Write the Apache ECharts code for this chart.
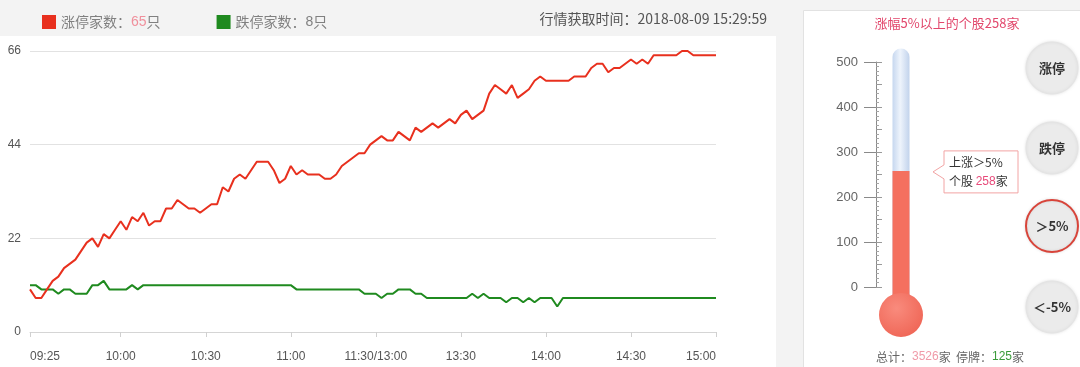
<!DOCTYPE html>
<html><head><meta charset="utf-8">
<script src="https://cdn.jsdelivr.net/npm/echarts@6/dist/echarts.min.js"></script>
<style>html,body{margin:0;padding:0;background:#f3f3f3;}#c{width:1080px;height:367px;}</style>
</head><body><div id="c"></div>
<script>
// ---------- data ----------
const tickTimes = ['09:25','10:00','10:30','11:00','11:30','13:30','14:00','14:30','15:00'];
const tickLabelMap = { '11:30': '11:30/13:00' };
const yTicks = [0, 22, 44, 66];
const limitUp = [
  10, 8, 8, 10, 12, 13, 15, 16, 17, 19,
  21, 22, 20, 23, 22, 24, 26, 24, 27, 26,
  28, 25, 26, 26, 29, 29, 31, 30, 29, 29,
  28, 29, 30, 30, 34, 33, 36, 37, 36, 38,
  40, 40, 40, 38, 35, 36, 39, 37, 38, 37,
  37, 37, 36, 36, 37, 39, 40, 41, 42, 42,
  44, 45, 46, 45, 45, 47, 46, 45, 48, 47,
  48, 49, 48, 49, 50, 49, 51, 52, 50, 51,
  52, 56, 58, 57, 56, 58, 55, 56, 57, 59,
  60, 59, 59, 59, 59, 59, 60, 60, 60, 62,
  63, 63, 61, 62, 62, 63, 64, 63, 64, 63,
  65, 65, 65, 65, 65, 66, 66, 65, 65, 65,
  65, 65
];
const limitDown = [
  11, 11, 10, 10, 10, 9, 10, 10, 9, 9,
  9, 11, 11, 12, 10, 10, 10, 10, 11, 10,
  11, 11, 11, 11, 11, 11, 11, 11, 11, 11,
  11, 11, 11, 11, 11, 11, 11, 11, 11, 11,
  11, 11, 11, 11, 11, 11, 11, 10, 10, 10,
  10, 10, 10, 10, 10, 10, 10, 10, 10, 9,
  9, 9, 8, 9, 9, 10, 10, 10, 9, 9,
  8, 8, 8, 8, 8, 8, 8, 8, 9, 8,
  9, 8, 8, 8, 7, 8, 8, 7, 8, 7,
  8, 8, 8, 6, 8, 8, 8, 8, 8, 8,
  8, 8, 8, 8, 8, 8, 8, 8, 8, 8,
  8, 8, 8, 8, 8, 8, 8, 8, 8, 8,
  8, 8
];
const limitUpCount = 65;
const limitDownCount = 8;
const updateTime = '2018-08-09 15:29:59';
const thermoTicks = [0, 100, 200, 300, 400, 500];
const above5Count = 258;
const totalCount = 3526;
const suspendedCount = 125;
const buttonLabels = ['涨停', '跌停', '＞5%', '＜-5%'];

// category times: 09:25, then every 2 minutes of the trading session
function buildTimes() {
  const t = ['09:25'];
  const fmt = m => String(Math.floor(m / 60)).padStart(2, '0') + ':' + String(m % 60).padStart(2, '0');
  for (let m = 9 * 60 + 30; m <= 11 * 60 + 30; m += 2) t.push(fmt(m));
  for (let m = 13 * 60 + 2; m <= 15 * 60; m += 2) t.push(fmt(m));
  return t;
}
const times = buildTimes();

// ---------- chart ----------
const CJK = '"Noto Sans CJK SC", "Liberation Sans", sans-serif';
const NUM = '"Liberation Sans", Arial, sans-serif';
const RED = '#e8301e', GREEN = '#1f8a1f', FILL = '#f4705f';
const TUBE_TOP = 530, BULB_CENTER = -62;

const chart = echarts.init(document.getElementById('c'), null, { renderer: 'canvas' });
const showTick = (i, v) => tickTimes.includes(v);

chart.setOption({
  animation: false,
  backgroundColor: '#f3f3f3',
  legend: {
    left: 37, top: 10, itemWidth: 14, itemHeight: 14, itemGap: 56, icon: 'rect',
    data: ['涨停家数', '跌停家数'],
    formatter: n => n === '涨停家数' ? '涨停家数：{u|' + limitUpCount + '}只' : '跌停家数：{d|' + limitDownCount + '}只',
    textStyle: { color: '#808080', fontSize: 14, fontFamily: CJK,
      rich: { u: { color: '#f0909c', fontSize: 14, fontFamily: NUM }, d: { color: '#808080', fontSize: 14, fontFamily: NUM } } },
    selectedMode: false
  },
  grid: [
    { left: 30, top: 51, width: 686, height: 281 },
    { left: 876, top: 62, width: 50, height: 225 }
  ],
  xAxis: [
    { type: 'category', gridIndex: 0, data: times, boundaryGap: false,
      axisLine: { lineStyle: { color: '#d5d5d5' } },
      axisTick: { show: true, interval: showTick, length: 5, lineStyle: { color: '#d0d0d0' } },
      axisLabel: { interval: showTick, formatter: v => tickLabelMap[v] || v, color: '#555', fontSize: 12,
        fontFamily: NUM, margin: 19, alignMinLabel: 'left', alignMaxLabel: 'right' },
      splitLine: { show: false } },
    { type: 'value', gridIndex: 1, min: 0, max: 1, show: false }
  ],
  yAxis: [
    { type: 'value', gridIndex: 0, min: yTicks[0], max: yTicks[yTicks.length - 1], interval: yTicks[1] - yTicks[0],
      axisLine: { show: false }, axisTick: { show: false },
      axisLabel: { color: '#555', fontSize: 12, fontFamily: NUM, margin: 9 },
      splitLine: { lineStyle: { color: '#e2e2e2' } } },
    { type: 'value', gridIndex: 1, position: 'left', offset: 0, min: thermoTicks[0], max: thermoTicks[thermoTicks.length - 1],
      interval: thermoTicks[1] - thermoTicks[0],
      axisLine: { show: true, lineStyle: { color: '#8a8a8a' } },
      axisTick: { show: true, length: 12, lineStyle: { color: '#8a8a8a' } },
      axisLabel: { color: '#666', fontSize: 13, fontFamily: NUM, margin: 18 },
      splitLine: { show: false } },
    { type: 'value', gridIndex: 1, position: 'left', offset: 0, min: 0, max: 500, interval: 50,
      axisLine: { show: false },
      axisTick: { show: true, inside: true, length: 6, lineStyle: { color: '#9a9a9a' } },
      minorTick: { show: true, splitNumber: 5, length: 3, lineStyle: { color: '#a5a5a5' } },
      axisLabel: { show: false }, splitLine: { show: false } }
  ],
  series: [
    { name: '涨停家数', type: 'line', xAxisIndex: 0, yAxisIndex: 0, data: limitUp, showSymbol: false, symbol: 'none',
      color: RED, lineStyle: { color: RED, width: 2 }, z: 3 },
    { name: '跌停家数', type: 'line', xAxisIndex: 0, yAxisIndex: 0, data: limitDown, showSymbol: false, symbol: 'none',
      color: GREEN, lineStyle: { color: GREEN, width: 2 }, z: 2 },
    { name: 'thermo', type: 'custom', xAxisIndex: 1, yAxisIndex: 1, data: [[0.5, above5Count]], clip: false, silent: true,
      renderItem: (params, api) => {
        const cx = api.coord([api.value(0), 0])[0];
        const yTop = api.coord([0, TUBE_TOP])[1];
        const yVal = api.coord([0, api.value(1)])[1];
        const yBulb = api.coord([0, BULB_CENTER])[1];
        const w = 17;
        return { type: 'group', children: [
          { type: 'rect', shape: { x: cx - w / 2, y: yTop, width: w, height: yBulb - yTop, r: [w / 2, w / 2, 0, 0] },
            style: { fill: new echarts.graphic.LinearGradient(0, 0, 1, 0, [
              { offset: 0, color: '#c6d7ef' }, { offset: 0.45, color: '#eef4fc' }, { offset: 1, color: '#c2d3ec' }]) } },
          { type: 'rect', shape: { x: cx - w / 2, y: yVal, width: w, height: yBulb - yVal },
            style: { fill: FILL } },
          { type: 'circle', shape: { cx: cx, cy: yBulb, r: 22 },
            style: { fill: new echarts.graphic.RadialGradient(0.4, 0.35, 0.8, [
              { offset: 0, color: '#f98b7d' }, { offset: 1, color: '#ee6151' }]) } }
        ] };
      } }
  ]
});

// decorations (panels, texts, buttons, callout)
const p = chart.convertToPixel({ xAxisIndex: 1, yAxisIndex: 1 }, [0.5, above5Count]);
const bx = p[0] + 43, by = p[1] - 20, bw = 74, bh = 42, tipX = p[0] + 32, tipY = p[1] + 1;
const btnY = [68, 148, 226, 307];
const graphics = [
  { type: 'rect', z: -10, shape: { x: 0, y: 36, width: 776, height: 331 }, style: { fill: '#ffffff' } },
  { type: 'rect', z: -10, shape: { x: 803.5, y: 10.5, width: 280, height: 360 }, style: { fill: '#ffffff', stroke: '#e2e2e2', lineWidth: 1 } },
  { type: 'text', z: 10, x: 767, y: 19, style: { text: '行情获取时间：' + updateTime, fill: '#555', font: '14px ' + CJK, align: 'right', verticalAlign: 'middle' } },
  { type: 'text', z: 10, x: 947, y: 23, style: { text: '涨幅5%以上的个股' + above5Count + '家', fill: '#e2476c', font: '13px ' + CJK, align: 'center', verticalAlign: 'middle' } },
  { type: 'text', z: 10, x: 950, y: 357, style: {
      text: '总计：{a|' + totalCount + '}家  停牌：{b|' + suspendedCount + '}家', fill: '#666', font: '12px ' + CJK,
      align: 'center', verticalAlign: 'middle',
      rich: { a: { fill: '#f09aa8', font: '12px ' + NUM }, b: { fill: '#3a9a3a', font: '12px ' + NUM } } } },
  { type: 'polygon', z: 10, shape: { points: [[tipX, tipY], [bx, tipY - 7], [bx, by], [bx + bw, by], [bx + bw, by + bh], [bx, by + bh], [bx, tipY + 7]] },
    style: { fill: '#fff', stroke: '#f2a4a4', lineWidth: 1 } },
  { type: 'text', z: 11, x: bx + 5, y: by + 12, style: { text: '上涨＞5%', fill: '#333', font: '12px ' + CJK, verticalAlign: 'middle' } },
  { type: 'text', z: 11, x: bx + 5, y: by + 31, style: { text: '个股 {v|' + above5Count + '}家', fill: '#333', font: '12px ' + CJK, verticalAlign: 'middle',
      rich: { v: { fill: '#e84a7a', font: '12px ' + NUM } } } }
];
buttonLabels.forEach((lab, i) => {
  graphics.push({ type: 'circle', z: 10, shape: { cx: 1052, cy: btnY[i], r: 26 },
    style: { fill: '#ebebeb', stroke: i === 2 ? '#d8443a' : '#e4e4e4', lineWidth: i === 2 ? 2 : 1,
      shadowBlur: 3, shadowColor: 'rgba(0,0,0,0.10)' } });
  graphics.push({ type: 'text', z: 11, x: 1052, y: btnY[i], style: { text: lab, fill: '#333', font: 'bold 13px ' + CJK, align: 'center', verticalAlign: 'middle' } });
});
chart.setOption({ graphic: graphics });
</script></body></html>
